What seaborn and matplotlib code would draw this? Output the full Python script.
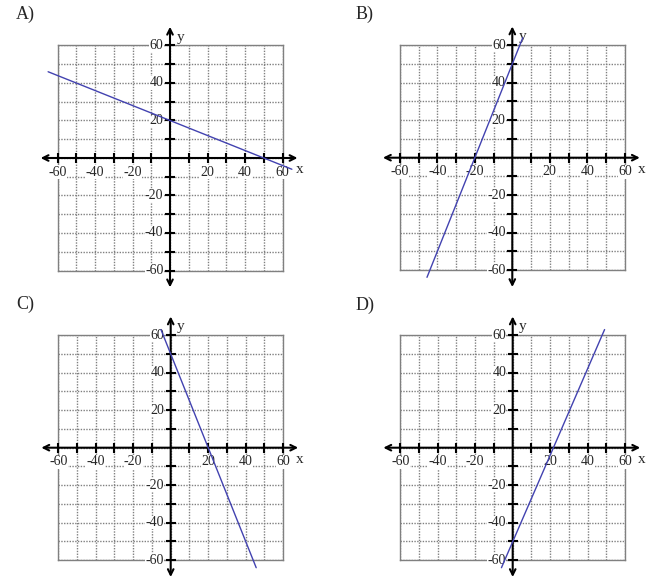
import matplotlib
matplotlib.use("Agg")
import matplotlib.pyplot as plt
import seaborn as sns

# four answer choices, each a straight line (endpoints)
panel_names = ["A)", "B)", "C)", "D)"]
line_x = [[-65, 65], [-45.5, 5.6], [-5.2, 45.6], [-6, 49]]
line_y = [[46, -6], [-63.8, 64], [63, -64], [-64, 63]]
grid_ticks = list(range(-60, 61, 10))
axis_ticks = [t for t in grid_ticks if t != 0]
label_ticks = [-60, -40, -20, 20, 40, 60]

sns.set_style("white")
plt.rcParams["font.family"] = ["Liberation Serif", "DejaVu Serif"]

W, H = 650, 587
SCALE = 1.875  # pixels per unit
HALF = 60 * SCALE

# pixel centre of each coordinate cross, and panel letter spots
origins = [(170, 158), (512.3, 157.7), (170.7, 447.7), (512.7, 447.7)]
letter_pos = [(16, 14), (356, 14), (16, 304), (356, 305)]

fig = plt.figure(figsize=(W / 100, H / 100), dpi=100)

for i, name in enumerate(panel_names):
    ox, oy = origins[i]
    rect = [(ox - HALF) / W, (H - (oy + HALF)) / H, 2 * HALF / W, 2 * HALF / H]
    ax = fig.add_axes(rect)

    # the graphed line
    sns.lineplot(x=line_x[i], y=line_y[i], ax=ax, color="#4242b0",
                 lw=1, zorder=6)
    ax.lines[-1].set_clip_on(False)

    ax.set_xlim(-60, 60)
    ax.set_ylim(-60, 60)
    ax.set_xticks(grid_ticks)
    ax.set_yticks(grid_ticks)
    ax.set_xlabel("")
    ax.set_ylabel("")
    ax.set_axisbelow(True)
    ax.grid(True, color="#808080", lw=1.0, ls=(0, (1, 1)))
    ax.tick_params(length=0, labelbottom=False, labelleft=False)
    for sp in ax.spines.values():
        sp.set_color("#808080")
        sp.set_linewidth(1.0)
        sp.set_linestyle((0, (1, 1)))

    # coordinate axes with arrowheads
    arrow = dict(arrowstyle="<->", lw=1.5, color="black",
                 mutation_scale=10, shrinkA=0, shrinkB=0)
    ax.annotate("", xy=(68, 0), xytext=(-69, 0), arrowprops=arrow,
                annotation_clip=False, zorder=4)
    ax.annotate("", xy=(0, 70), xytext=(0, -69), arrowprops=arrow,
                annotation_clip=False, zorder=4)
    ax.plot(axis_ticks, [0] * len(axis_ticks), ls="none", marker="|",
            ms=7, mew=1.5, color="black", clip_on=False, zorder=4)
    ax.plot([0] * len(axis_ticks), axis_ticks, ls="none", marker="_",
            ms=7, mew=1.5, color="black", clip_on=False, zorder=4)

    box = dict(facecolor="white", edgecolor="none", pad=0.2)
    for t in label_ticks:
        ax.text(t, -7.5, str(t), ha="center", va="center", fontsize=10,
                bbox=box, zorder=3)
        ax.text(-3.5, t, str(t), ha="right", va="center", fontsize=10,
                bbox=box, zorder=3)
    ax.text(67, -6.4, "x", ha="left", va="center", fontsize=11,
            clip_on=False)
    ax.text(3.5, 64.5, "y", ha="left", va="center", fontsize=11,
            clip_on=False)

    lx, ly = letter_pos[i]
    fig.text(lx / W, 1 - ly / H, name, ha="left", va="center", fontsize=13)

fig.savefig("out.png", dpi=100)
